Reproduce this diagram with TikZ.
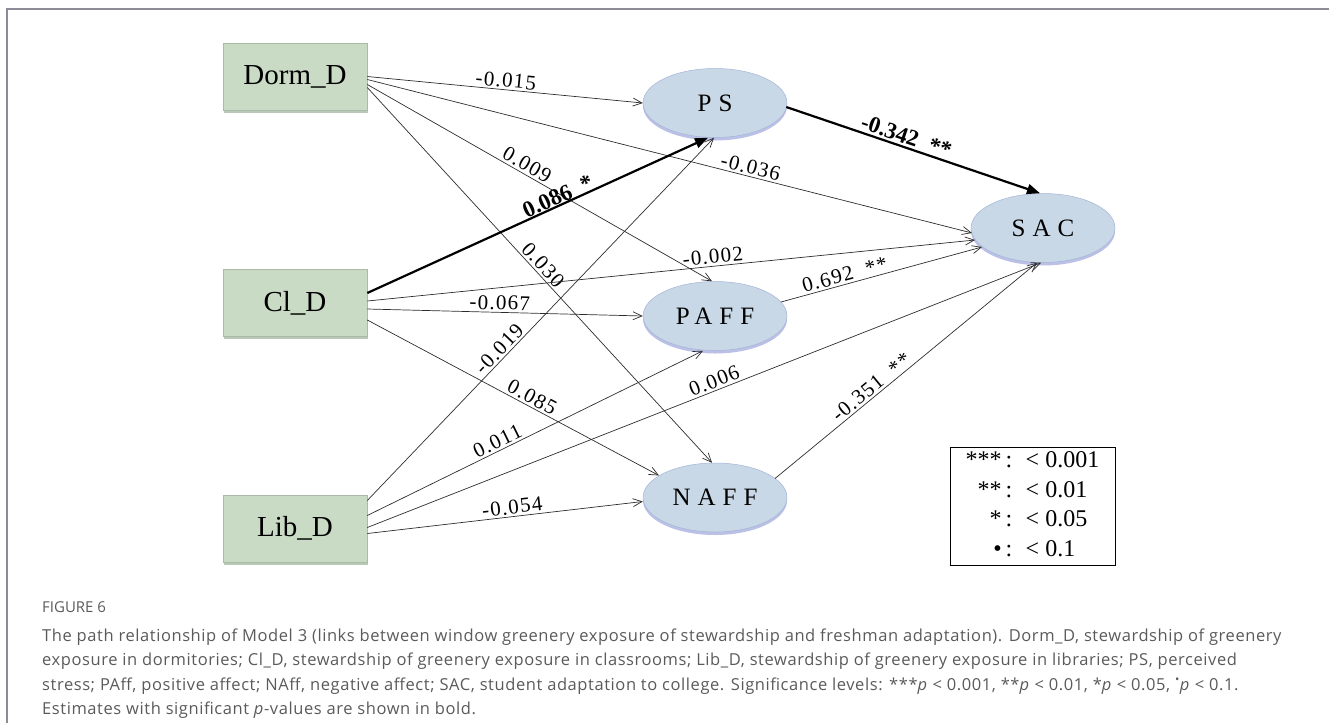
\documentclass[tikz,border=0pt]{standalone}
\usepackage{fontspec}
\setmainfont{Liberation Serif}
\newfontfamily\capfont{Open Sans}
\usepackage{tikz}
\usetikzlibrary{arrows.meta, calc, shapes.geometric, shadows}
\definecolor{boxgreen}{RGB}{201,218,197}
\definecolor{boxshade}{RGB}{100,135,95}
\definecolor{ellblue}{RGB}{200,216,230}
\definecolor{ellshade}{RGB}{105,115,200}
\definecolor{ellline}{RGB}{165,180,215}
\definecolor{pathdark}{RGB}{45,45,45}
\definecolor{framegray}{RGB}{140,140,152}
\definecolor{capgray}{RGB}{90,90,90}
\tikzset{
  obsbox/.style={rectangle, fill=boxgreen, draw=boxgreen!85!black,
    line width=0.6pt, minimum width=144pt, minimum height=67pt, inner sep=0pt,
    font=\fontsize{29}{29}\selectfont,
    drop shadow={shadow xshift=0.5pt, shadow yshift=-2.5pt, opacity=0.45, fill=boxshade}},
  latent/.style={ellipse, fill=ellblue, draw=ellline, line width=0.5pt,
    minimum width=144pt, minimum height=69pt, inner sep=0pt,
    font=\fontsize{25}{25}\selectfont\addfontfeature{LetterSpace=28},
    drop shadow={shadow xshift=0pt, shadow yshift=-3pt, opacity=0.45, fill=ellshade}},
  effarrow/.style={-{Straight Barb[length=9pt,width=8pt]}, line width=0.7pt, color=pathdark},
  sigarrow/.style={-{Triangle[length=13pt,width=10pt]}, line width=2.2pt, color=black},
  coef/.style={sloped, above, inner sep=2pt, text=black,
    font=\fontsize{21}{21}\selectfont\addfontfeature{LetterSpace=6}},
  sigcoef/.style={coef, font=\fontsize{23}{23}\selectfont\bfseries},
  legendbox/.style={draw, line width=0.8pt, minimum width=165pt, minimum height=114pt,
    inner sep=0pt, font=\fontsize{24}{29.5}\selectfont},
  captext/.style={anchor=base west, inner sep=0pt, text=capgray,
    font=\capfont\fontsize{16.5}{16.5}\selectfont\addfontfeature{LetterSpace=3.5}}
}

\begin{document}
\begin{tikzpicture}[x=1pt, y=-1pt]
  \useasboundingbox (0,0) rectangle (1329,723);
  \draw[framegray, line width=1.5pt] (7,723) -- (7,9) -- (1329,9);

  % observed variables
  \node[obsbox] (dorm) at (295,76.5) {Dorm\_D};
  \node[obsbox] (cl) at (295,303) {Cl\_D};
  \node[obsbox] (lib) at (295,528.5) {Lib\_D};

  % mediators and outcome
  \node[latent] (ps) at (715,103) {PS};
  \node[latent] (paff) at (715,316) {PAFF};
  \node[latent] (naff) at (715,497.5) {NAFF};
  \node[latent] (sac) at (1043,228) {SAC};

  % Dorm_D paths
  \draw[effarrow] (dorm.east) -- (ps.west) node[coef, pos=0.5] {-0.015};
  \draw[effarrow] ($(dorm.east)+(0,3)$) -- ($(sac.center)+(-71,5)$) node[coef, pos=0.63] {-0.036};
  \draw[effarrow] ($(dorm.east)+(0,8)$) -- ($(paff.north)+(-3,0)$) node[coef, pos=0.45] {0.009};
  \draw[effarrow] ($(dorm.east)+(0,11)$) -- ($(naff.north)+(-3,0)$) node[coef, pos=0.49] {0.030};

  % Cl_D paths
  \draw[sigarrow] ($(cl.east)+(0,-10)$) -- ($(ps.south)+(-7,0)$) node[sigcoef, pos=0.57, inner sep=0pt] {0.086~~*};
  \draw[effarrow] ($(cl.east)+(0,-2)$) -- ($(sac.center)+(-68,12)$) node[coef, pos=0.57] {-0.002};
  \draw[effarrow] ($(cl.east)+(0,6)$) -- (paff.west) node[coef, pos=0.48] {-0.067};
  \draw[effarrow] ($(cl.east)+(0,17)$) -- ($(naff.center)+(-56,-22)$) node[coef, pos=0.55] {0.085};

  % Lib_D paths
  \draw[effarrow] ($(lib.east)+(0,-28)$) -- ($(ps.south)+(-1,0)$) node[coef, pos=0.4] {-0.019};
  \draw[effarrow] ($(lib.east)+(0,-13)$) -- ($(paff.south)+(-12,0)$) node[coef, pos=0.4] {0.011};
  \draw[effarrow] ($(lib.east)+(0,-1)$) -- ($(sac.south)+(-2,0)$) node[coef, pos=0.52] {0.006};
  \draw[effarrow] ($(lib.east)+(0,5)$) -- ($(naff.west)+(0,4)$) node[coef, pos=0.53] {-0.054};

  % mediators to SAC
  \draw[sigarrow] ($(ps.east)+(-1,4)$) -- ($(sac.north)+(-3,0)$) node[sigcoef, pos=0.46] {-0.342~~**};
  \draw[effarrow] ($(paff.center)+(66,-14)$) -- ($(sac.center)+(-61,19)$) node[coef, pos=0.33] {0.692~~**};
  \draw[effarrow] ($(naff.center)+(60,-19)$) -- ($(sac.south)+(-6,0)$) node[coef, pos=0.39] {-0.351~~**};

  % significance legend
  \node[legendbox] (legend) at (1032.5,506) {%
    \begin{tabular}{@{}r@{\,:\;\;}l@{}}
      {***}&< 0.001\\
      {**}&< 0.01\\
      {*}&< 0.05\\
      \textbullet\ &< 0.1
    \end{tabular}};

  % caption
  \node[captext, font=\capfont\fontsize{15}{15}\selectfont] (figno) at (42,612) {FIGURE 6};
  \node[captext] (capA) at (42,641) {The path relationship of Model 3 (links between window greenery exposure of stewardship and freshman adaptation). Dorm\_D, stewardship of greenery};
  \node[captext] (capB) at (42,665.5) {exposure in dormitories; Cl\_D, stewardship of greenery exposure in classrooms; Lib\_D, stewardship of greenery exposure in libraries; PS, perceived};
  \node[captext] (capC) at (42,690) {stress; PAff, positive affect; NAff, negative affect; SAC, student adaptation to college. Significance levels: ***\textit{p} < 0.001, **\textit{p} < 0.01, *\textit{p} < 0.05, \textsuperscript{\textbullet}\textit{p} < 0.1.};
  \node[captext] (capD) at (42,714) {Estimates with significant \textit{p}-values are shown in bold.};
\end{tikzpicture}
\end{document}
